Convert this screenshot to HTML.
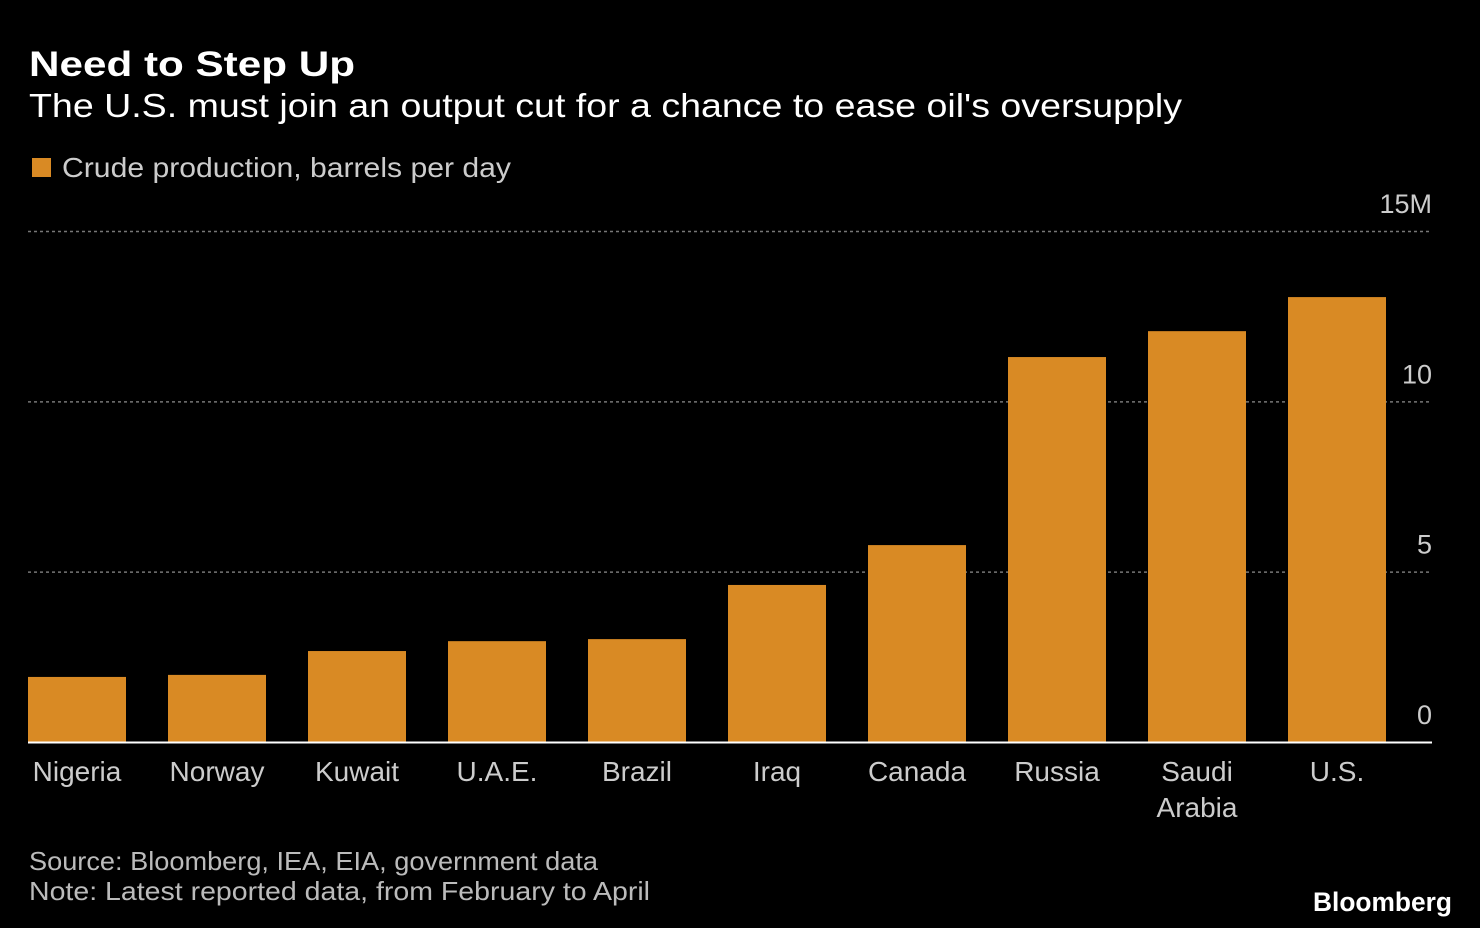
<!DOCTYPE html>
<html><head><meta charset="utf-8"><style>
html,body{margin:0;padding:0;background:#000;}
svg{display:block;font-family:"Liberation Sans",sans-serif;}
</style></head><body>
<svg id="chart" width="1480" height="928" viewBox="0 0 1480 928">
<rect width="1480" height="928" fill="#000"/>
<text x="29" y="76" fill="#fff" font-size="35" font-weight="bold" textLength="326" lengthAdjust="spacingAndGlyphs">Need to Step Up</text>
<text x="29" y="117" fill="#fff" font-size="33" textLength="1153" lengthAdjust="spacingAndGlyphs">The U.S. must join an output cut for a chance to ease oil's oversupply</text>
<rect x="32" y="158" width="19" height="19" fill="#d98a24"/>
<text x="62" y="177" fill="#ccc" font-size="28" textLength="449" lengthAdjust="spacingAndGlyphs">Crude production, barrels per day</text>
<g id="grid"></g>
<g id="bars"></g>
<g id="xlabels"></g>
<line x1="28" x2="1432" y1="742.5" y2="742.5" stroke="#fff" stroke-width="2"/>
<text x="29" y="870" fill="#bbb" font-size="26" textLength="569" lengthAdjust="spacingAndGlyphs">Source: Bloomberg, IEA, EIA, government data</text>
<text x="29" y="900" fill="#bbb" font-size="26" textLength="621" lengthAdjust="spacingAndGlyphs">Note: Latest reported data, from February to April</text>
<text x="1313" y="911" fill="#fff" font-size="27" font-weight="bold" textLength="139" lengthAdjust="spacingAndGlyphs">Bloomberg</text>
</svg>
<script>
const categories = ["Nigeria","Norway","Kuwait","U.A.E.","Brazil","Iraq","Canada","Russia","Saudi Arabia","U.S."];
const values = [1.91,1.97,2.67,2.96,3.02,4.61,5.78,11.3,12.06,13.06];
const tickValues = [0,5,10,15];
const tickLabels = ["0","5","10","15M"];
const NS="http://www.w3.org/2000/svg";
const y0=742, yScale=(742-231)/15;
function y(v){return y0-v*yScale;}
function x(i){return 28+i*140;}
const bw=98;
const grid=document.getElementById('grid');
tickValues.forEach((t,i)=>{
  if(t!==0){
    const l=document.createElementNS(NS,'line');
    l.setAttribute('x1',28);l.setAttribute('x2',1432);
    l.setAttribute('y1',y(t)+0.5);l.setAttribute('y2',y(t)+0.5);
    l.setAttribute('stroke','#777');l.setAttribute('stroke-width','1.5');l.setAttribute('stroke-dasharray','3,3');
    
    
    grid.appendChild(l);
  }
  const tx=document.createElementNS(NS,'text');
  tx.setAttribute('x',1432);tx.setAttribute('y',y(t)-18);
  tx.setAttribute('text-anchor','end');tx.setAttribute('fill','#ccc');tx.setAttribute('font-size','27');
  tx.textContent=tickLabels[i];
  
  
  grid.appendChild(tx);
});
const bars=document.getElementById('bars'), xl=document.getElementById('xlabels');
categories.forEach((c,i)=>{
  const r=document.createElementNS(NS,'rect');
  r.setAttribute('x',x(i));r.setAttribute('width',bw);
  r.setAttribute('y',y(values[i]));r.setAttribute('height',y0-y(values[i]));
  r.setAttribute('fill','#d98a24');
  
  
  bars.appendChild(r);
  const words=c==="Saudi Arabia"?["Saudi","Arabia"]:[c];
  words.forEach((w,j)=>{
    const t=document.createElementNS(NS,'text');
    t.setAttribute('x',x(i)+bw/2);t.setAttribute('y',781+j*36);
    t.setAttribute('text-anchor','middle');t.setAttribute('fill','#ccc');t.setAttribute('font-size','28');
    t.textContent=w;
    
    
    xl.appendChild(t);
  });
});
</script>
</body></html>
